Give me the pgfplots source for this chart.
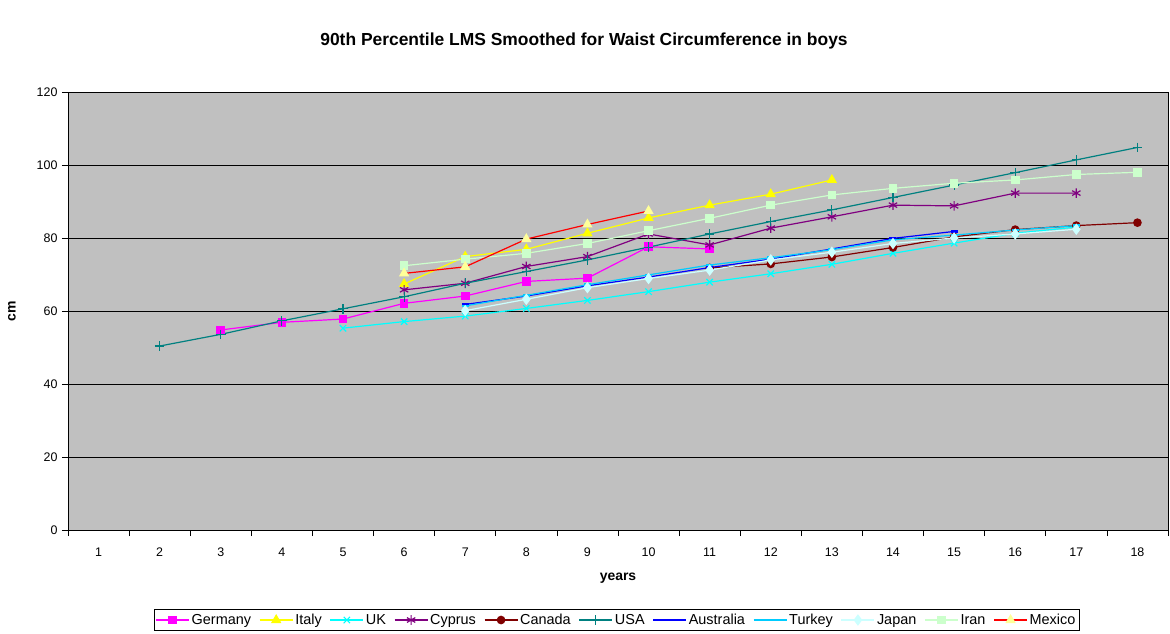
\documentclass[border=0pt]{standalone}
\usepackage{pgfplots}
\pgfplotsset{compat=1.18}
\usepackage{fontspec}
\setmainfont{Liberation Sans}
\usetikzlibrary{plotmarks}
\definecolor{cGer}{HTML}{FF00FF}
\definecolor{cIta}{HTML}{FFFF00}
\definecolor{cUK}{HTML}{00FFFF}
\definecolor{cCyp}{HTML}{800080}
\definecolor{cCan}{HTML}{800000}
\definecolor{cUSA}{HTML}{008080}
\definecolor{cAus}{HTML}{0000FF}
\definecolor{cTur}{HTML}{00CCFF}
\definecolor{cJap}{HTML}{CCFFFF}
\definecolor{cIra}{HTML}{CCFFCC}
\definecolor{cMex}{HTML}{FF0000}
\definecolor{cMexM}{HTML}{FFFF99}
\definecolor{plotbg}{HTML}{C0C0C0}
\begin{document}
\begin{tikzpicture}
\useasboundingbox (0bp,0bp) rectangle (1170bp,634bp);
\node[font=\bfseries\fontsize{17.5}{20}\selectfont] at (584bp,593bp) {90th Percentile LMS Smoothed for Waist Circumference in boys};
\begin{axis}[
  at={(68bp,104bp)}, anchor=south west,
  scale only axis, width=1100bp, height=438bp,
  xmin=0.5, xmax=18.5, ymin=0, ymax=120,
  xtick={1,...,18}, ytick={0,20,...,120},
  minor xtick={0.5,1.5,...,18.5},
  major x tick style={draw=none},
  tick align=outside, major tick length=6bp, minor tick length=6bp,
  tick style={black, line width=0.6bp},
  xtick pos=bottom, ytick pos=left,
  ymajorgrids, major grid style={black, line width=0.8bp},
  axis background/.style={fill=plotbg},
  axis line style={black, line width=0.8bp},
  tick label style={font=\fontsize{12.5}{14}\selectfont},
  xticklabel style={yshift=-8bp},
  yticklabel style={xshift=-1bp},
  /pgf/number format/assume math mode=true,
  xlabel={\bfseries years}, ylabel={\bfseries cm},
  label style={font=\bfseries\fontsize{14}{16}\selectfont},
  xlabel style={at={(axis description cs:0.5,-0.1096)}, anchor=center},
  ylabel style={at={(axis description cs:-0.0509,0.5)}, anchor=center},
  legend columns=11,
  legend style={at={(0.4986,-0.2055)}, anchor=center, draw=black, fill=white,
    font=\fontsize{14.5}{16}\selectfont, inner ysep=2.5bp, inner xsep=1.5bp,
    /tikz/every even column/.append style={column sep=6bp}},
  legend cell align=left,
  legend image code/.code={\draw[mark repeat=2,mark phase=2,#1] plot coordinates {(0bp,0bp) (16.5bp,0bp) (33bp,0bp)};},
  every axis plot/.append style={line width=1.2bp},
]
\addplot[cGer, mark=square*, mark size=3.7bp, mark options={fill=cGer}] coordinates {
(3,54.8) (4,56.9) (5,57.8) (6,62.1) (7,64.1) (8,68.1) (9,69.0) (10,77.6) (11,77.0)};
\addlegendentry{Germany}
\addplot[cIta, mark=triangle*, mark size=4.8bp, mark options={fill=cIta}] coordinates {
(6,67.4) (7,74.9) (8,76.9) (9,81.3) (10,85.5) (11,89.0) (12,92.0) (13,95.9)};
\addlegendentry{Italy}
\addplot[cUK, mark=x, mark size=4.5bp] coordinates {
(5,55.3) (6,57.1) (7,58.6) (8,60.7) (9,62.9) (10,65.3) (11,67.9) (12,70.2) (13,72.8) (14,75.8) (15,78.6) (16,81.3) (17,83.0)};
\addlegendentry{UK}
\addplot[cCyp, mark=asterisk, mark size=4.8bp] coordinates {
(6,65.8) (7,67.6) (8,72.2) (9,74.9) (10,81.1) (11,78.1) (12,82.7) (13,85.8) (14,89.0) (15,88.8) (16,92.3) (17,92.3)};
\addlegendentry{Cyprus}
\addplot[cCan, mark=*, mark size=3.7bp, mark options={fill=cCan}] coordinates {
(11,71.8) (12,72.9) (13,74.8) (14,77.4) (15,80.3) (16,82.3) (17,83.4) (18,84.2)};
\addlegendentry{Canada}
\addplot[cUSA, mark=+, mark size=4.8bp] coordinates {
(2,50.4) (3,53.6) (4,57.3) (5,60.6) (6,63.9) (7,67.6) (8,70.8) (9,74.0) (10,77.5) (11,81.1) (12,84.5) (13,87.7) (14,91.1) (15,94.5) (16,97.9) (17,101.4) (18,104.8)};
\addlegendentry{USA}
\addplot[cAus, mark=-, mark size=3.5bp, mark options={line width=2.5bp}] coordinates {
(7,61.8) (8,64.1) (9,66.9) (10,69.3) (11,71.9) (12,74.2) (13,77.0) (14,79.9) (15,81.8)};
\addlegendentry{Australia}
\addplot[cTur, mark=-, mark size=3.5bp, mark options={line width=2.5bp}] coordinates {
(7,61.4) (8,64.3) (9,67.2) (10,69.9) (11,72.6) (12,74.6) (13,76.8) (14,79.5) (15,80.8) (16,82.2) (17,83.4)};
\addlegendentry{Turkey}
\addplot[cJap, mark=diamond*, mark size=4.8bp, mark options={fill=cJap}] coordinates {
(7,60.1) (8,63.2) (9,66.4) (10,68.9) (11,71.2) (12,74.0) (13,76.1) (14,78.5) (15,80.0) (16,81.1) (17,82.4)};
\addlegendentry{Japan}
\addplot[cIra, mark=square*, mark size=3.7bp, mark options={fill=cIra}] coordinates {
(6,72.4) (7,74.2) (8,75.8) (9,78.5) (10,82.0) (11,85.4) (12,89.0) (13,91.8) (14,93.6) (15,95.0) (16,95.9) (17,97.4) (18,98.0)};
\addlegendentry{Iran}
\addplot[cMex, mark=triangle*, mark size=4.8bp, mark options={fill=cMexM, draw=cMexM}] coordinates {
(6,70.3) (7,72.1) (8,79.7) (9,83.7) (10,87.4)};
\addlegendentry{Mexico}
\end{axis}
\end{tikzpicture}
\end{document}
